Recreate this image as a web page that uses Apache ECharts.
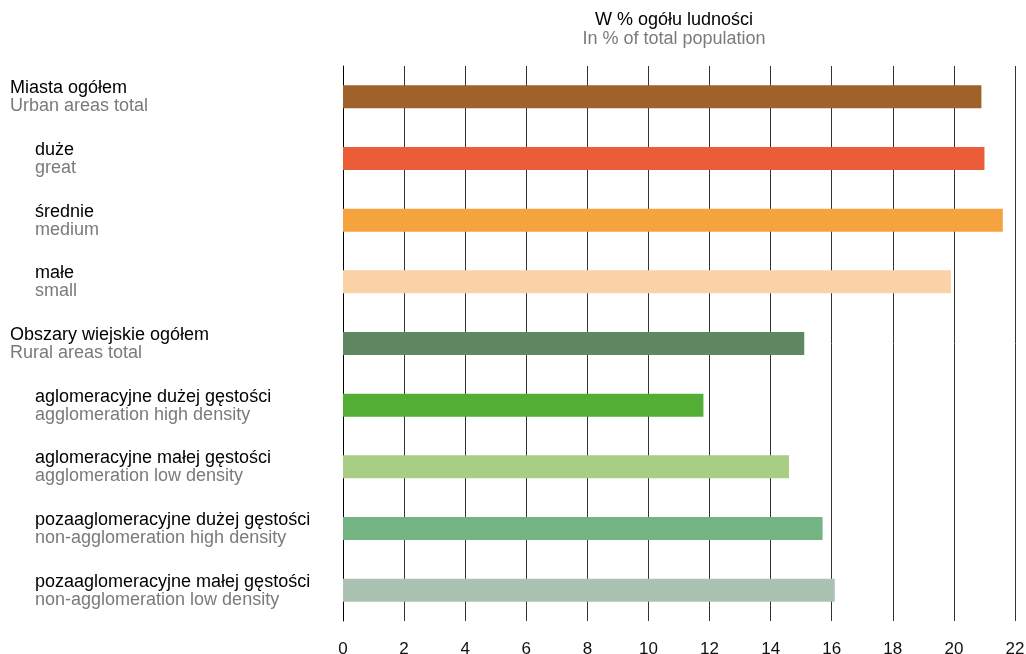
<!DOCTYPE html>
<html>
<head>
<meta charset="utf-8">
<script src="https://cdn.jsdelivr.net/npm/echarts@6/dist/echarts.min.js"></script>
<style>
  html, body { margin: 0; padding: 0; background: #fff; }
  #chart { width: 1026px; height: 654px; }
</style>
</head>
<body>
<div id="chart"></div>
<script>
var labelsPl = ['Miasta ogółem', 'duże', 'średnie', 'małe', 'Obszary wiejskie ogółem',
    'aglomeracyjne dużej gęstości', 'aglomeracyjne małej gęstości',
    'pozaaglomeracyjne dużej gęstości', 'pozaaglomeracyjne małej gęstości'];
var labelsEn = ['Urban areas total', 'great', 'medium', 'small', 'Rural areas total',
    'agglomeration high density', 'agglomeration low density',
    'non-agglomeration high density', 'non-agglomeration low density'];
var indented = [false, true, true, true, false, true, true, true, true];
var values = [20.9, 21.0, 21.6, 19.9, 15.1, 11.8, 14.6, 15.7, 16.1];
var colors = ['#A0612B', '#EB5C38', '#F5A33F', '#FAD2A5', '#5F8862', '#53AE35', '#A8CD85', '#72B483', '#ABC1B1'];

var dom = document.getElementById('chart');
var myChart = echarts.init(dom);

var option = {
    animation: false,
    textStyle: { fontFamily: 'Liberation Sans, Arial, sans-serif' },
    title: {
        text: 'W % ogółu ludności',
        subtext: 'In % of total population',
        left: 669,
        top: 6,
        textAlign: 'center',
        itemGap: 0,
        textStyle: { fontSize: 18, fontWeight: 'normal', color: '#000', lineHeight: 19 },
        subtextStyle: { fontSize: 18, color: '#7a7a7a', lineHeight: 19 }
    },
    grid: { left: 343, right: 11, top: 66, bottom: 33, containLabel: false, outerBoundsMode: 'none' },
    xAxis: {
        type: 'value',
        min: 0,
        max: 22,
        interval: 2,
        axisLine: { show: false },
        axisTick: { show: false },
        splitLine: { show: true, lineStyle: { color: '#333', width: 1 } },
        axisLabel: {
            margin: 20,
            fontSize: 17,
            color: '#111'
        }
    },
    yAxis: {
        type: 'category',
        inverse: true,
        data: labelsPl,
        axisLine: { show: true, lineStyle: { color: '#000', width: 1 } },
        axisTick: { show: false },
        axisLabel: {
            align: 'left',
            margin: 333,
            formatter: function (v, i) {
                var k = indented[i] ? 'i' : 'n';
                return '{' + k + 'a|' + labelsPl[i] + '}\n{' + k + 'b|' + labelsEn[i] + '}';
            },
            rich: {
                na: { fontSize: 18, color: '#000', lineHeight: 19, padding: [2, 0, 0, 0] },
                nb: { fontSize: 18, color: '#7a7a7a', lineHeight: 19 },
                ia: { fontSize: 18, color: '#000', lineHeight: 19, padding: [2, 0, 0, 25] },
                ib: { fontSize: 18, color: '#7a7a7a', lineHeight: 19, padding: [0, 0, 0, 25] }
            }
        }
    },
    series: [{
        type: 'bar',
        barWidth: 23,
        data: values.map(function (v, i) {
            return { value: v, itemStyle: { color: colors[i] } };
        })
    }]
};

myChart.setOption(option);
</script>
</body>
</html>
